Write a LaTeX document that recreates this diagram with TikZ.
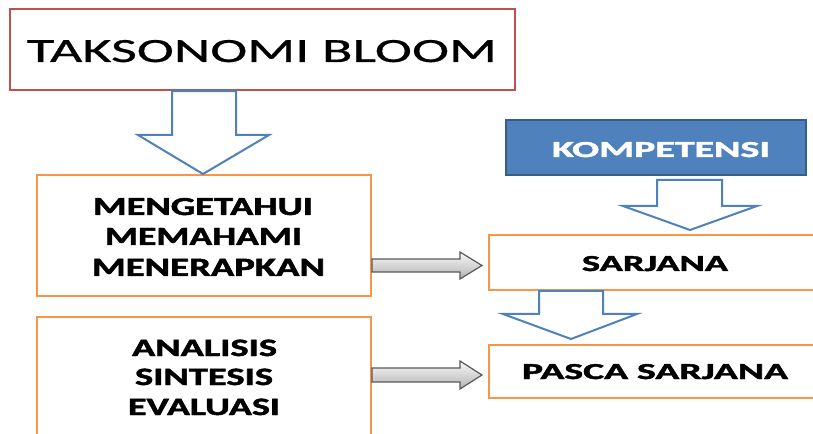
\documentclass[tikz,border=0pt]{standalone}
\usepackage{fontspec}
\usepackage{graphicx}
\setmainfont{Carlito}[UprightFeatures={FakeBold=0.6},BoldFeatures={FakeBold=1.6}]
\newcommand{\fitbox}[3]{\resizebox{#1pt}{#2pt}{#3}}
\definecolor{bloomred}{HTML}{C0504D}
\definecolor{boxorange}{HTML}{F79646}
\definecolor{arrowblue}{HTML}{4F81BD}
\definecolor{kompfill}{HTML}{4F81BD}
\definecolor{kompline}{HTML}{385D8A}
\definecolor{grayline}{HTML}{595959}
\tikzset{
  px/.style={x=0.75pt,y=-0.75pt},
  boxbase/.style={inner sep=0pt, line width=1.5pt},
  titlebox/.style={boxbase, draw=bloomred, fill=white, line width=1.8pt},
  orangebox/.style={boxbase, draw=boxorange, fill=white},
  kompbox/.style={boxbase, draw=kompline, fill=kompfill},
  txt/.style={inner sep=0pt, anchor=base},
  blockarrow/.style={draw=arrowblue, line width=1.5pt, fill=white, line join=miter},
  grayarrow/.style={draw=grayline, line width=0.9pt, top color=white!95!gray, bottom color=gray!60, line join=miter}
}
\begin{document}
\begin{tikzpicture}[px]
\useasboundingbox (0,0) rectangle (813,434);
\clip (0,0) rectangle (813,434);
\fill[white] (0,0) rectangle (813,434);

% boxes
\node[titlebox, minimum width=378.75pt, minimum height=60.75pt] (title) at (262.5,49.5) {};
\node[orangebox, minimum width=250.5pt, minimum height=90.75pt] (b1) at (204,235.5) {};
\node[orangebox, minimum width=250.5pt, minimum height=99.75pt] (b2) at (204,383.5) {};
\node[kompbox, minimum width=225pt, minimum height=41.25pt] (komp) at (656,147.5) {};
\node[orangebox, minimum width=255.75pt, minimum height=41.25pt] (sar) at (659.5,262.5) {};
\node[orangebox, minimum width=255.75pt, minimum height=39.75pt] (pas) at (659.5,371.5) {};

% texts
\node[txt] (ttitle) at (262,62) {\fitbox{352.5}{16.5}{TAKSONOMI BLOOM}};
\node[txt] (t11) at (203,215) {\fitbox{165}{12.75}{\bfseries MENGETAHUI}};
\node[txt] (t12) at (203.5,245) {\fitbox{147.75}{12.75}{\bfseries MEMAHAMI}};
\node[txt] (t13) at (208.5,276) {\fitbox{174.75}{12.9}{\bfseries MENERAPKAN}};
\node[txt] (t21) at (204.5,356) {\fitbox{108.75}{12.3}{\bfseries ANALISIS}};
\node[txt] (t22) at (204,385) {\fitbox{103.5}{12.3}{\bfseries SINTESIS}};
\node[txt] (t23) at (204,415) {\fitbox{114}{12.3}{\bfseries EVALUASI}};
\node[txt, text=white] (tkomp) at (661,157) {\fitbox{163.5}{11.25}{\bfseries KOMPETENSI}};
\node[txt] (tsar) at (655,271) {\fitbox{109.5}{11.25}{\bfseries SARJANA}};
\node[txt] (tpas) at (655,379) {\fitbox{199.5}{11.25}{\bfseries PASCA SARJANA}};

% blue outline block arrows
\draw[blockarrow] (172,0 |- title.south) -- (236,0 |- title.south) -- (236,135) -- (269,135)
  -- (203,0 |- b1.north) -- (138,135) -- (172,135) -- cycle;
\draw[blockarrow] (657,180) -- (722,180) -- (722,206) -- (757,206)
  -- (690,230) -- (623,206) -- (657,206) -- cycle;
\draw[blockarrow] (539,0 |- sar.south) -- (603,0 |- sar.south) -- (603,314) -- (637,314)
  -- (571,339) -- (503,314) -- (539,314) -- cycle;

% gray block arrows
\draw[grayarrow] (b1.east |- 0,259) -- (460,259) -- (460,252) -- (482,265.5)
  -- (460,279) -- (460,272) -- (b1.east |- 0,272) -- cycle;
\draw[grayarrow] (b2.east |- 0,368) -- (460,368) -- (460,361) -- (482,375)
  -- (460,389) -- (460,382) -- (b2.east |- 0,382) -- cycle;
\end{tikzpicture}
\end{document}
